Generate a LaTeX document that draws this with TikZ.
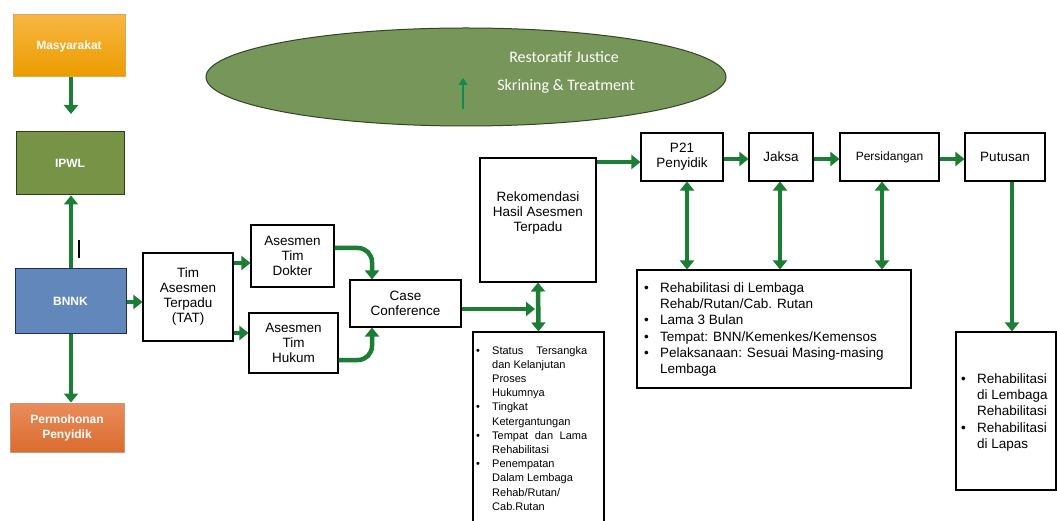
\documentclass[tikz,border=0pt]{standalone}
\usepackage{fontspec}
\setmainfont{Liberation Sans}
\newfontfamily\carl{Carlito}
\usetikzlibrary{arrows.meta,shapes.geometric}
\definecolor{arrgreen}{RGB}{28,125,52}
\definecolor{ellfill}{RGB}{119,150,89}
\definecolor{ellline}{RGB}{50,70,35}
\definecolor{ipwl}{RGB}{119,147,70}
\definecolor{ipwlline}{RGB}{45,60,25}
\definecolor{bnnk}{RGB}{98,135,186}
\definecolor{bnnkline}{RGB}{30,45,90}
\definecolor{mastop}{RGB}{248,182,64}
\definecolor{masbot}{RGB}{236,156,0}
\definecolor{masline}{RGB}{215,170,90}
\definecolor{pertop}{RGB}{234,140,90}
\definecolor{perbot}{RGB}{218,108,48}
\definecolor{perline}{RGB}{200,150,120}
\definecolor{upgreen}{RGB}{15,140,80}
\begin{document}
\begin{tikzpicture}[x=1pt,y=-1pt,
  box/.style={draw=black,line width=1.1pt,fill=white,align=center,inner sep=0pt,font=\fontsize{13.5}{15}\selectfont},
  lbox/.style={line width=1pt,align=center,inner sep=0pt,text=white,font=\bfseries\fontsize{12}{15}\selectfont},
  arr/.style={draw=arrgreen,line width=4.5pt,-{Triangle[width=14pt,length=9pt]}},
  darr/.style={draw=arrgreen,line width=4.5pt,{Triangle[width=14pt,length=9pt]}-{Triangle[width=14pt,length=9pt]}},
  listtext/.style={anchor=north west,inner sep=0pt,align=left}]
\useasboundingbox (0,0) rectangle (1057,521);
\fill[white] (0,0) rectangle (1057,521);

% ellipse
\node[ellipse,draw=ellline,line width=1pt,fill=ellfill,minimum width=520,minimum height=98,inner sep=0pt] (ell) at (466,77) {};
\node[text=white,font=\carl\fontsize{16}{18}\selectfont] (rj) at (564,57) {Restoratif Justice};
\node[text=white,font=\carl\fontsize{16}{18}\selectfont] (st) at (566,86) {Skrining \& Treatment};
\coordinate (ua) at (463,109);
\coordinate (ub) at (463,78);
\draw[draw=upgreen,line width=2.5pt,-{Triangle[width=9pt,length=7pt]}] (ua) -- (ub);

% left column
\node[lbox,draw=masline,top color=mastop,bottom color=masbot,minimum width=112,minimum height=62] (mas) at (69,46) {Masyarakat};
\node[lbox,draw=ipwlline,fill=ipwl,minimum width=108,minimum height=63] (ipwl) at (70,163.5) {IPWL};
\node[lbox,draw=bnnkline,fill=bnnk,minimum width=111,minimum height=64] (bnnk) at (70.5,301) {BNNK};
\node[lbox,draw=perline,top color=pertop,bottom color=perbot,minimum width=114,minimum height=49] (perm) at (67,427.5) {Permohonan\\Penyidik};

\coordinate (a1) at (71,114);
\draw[arr] (mas.south -| a1) -- (a1);
\draw[arr] (bnnk.north -| a1) -- (ipwl.south -| a1);
\draw[arr] (bnnk.south -| a1) -- (perm.north -| a1);
\coordinate (bar1) at (79,240);
\coordinate (bar2) at (79,258);
\draw[line width=1.2pt] (bar1) -- (bar2);

% middle
\node[box,minimum width=90,minimum height=88] (tat) at (188,297) {Tim\\Asesmen\\Terpadu\\(TAT)};
\node[box,minimum width=83,minimum height=62] (dok) at (292.5,256) {Asesmen\\Tim\\Dokter};
\node[box,minimum width=89,minimum height=60] (huk) at (293.5,343) {Asesmen\\Tim\\Hukum};
\node[box,minimum width=111,minimum height=47] (cc) at (405.5,303.5) {Case\\Conference};
\draw[arr] (bnnk.east |- 0,302) -- (tat.west |- 0,302);
\draw[arr] (tat.east |- 0,263) -- (dok.west |- 0,263);
\draw[arr] (tat.east |- 0,333) -- (huk.west |- 0,333);
\draw[arr,rounded corners=14pt] (dok.east |- 0,248) -| (cc.north -| 372,0);
\draw[arr,rounded corners=14pt] (huk.east |- 0,360) -| (cc.south -| 372,0);

\node[box,minimum width=116,minimum height=124] (rek) at (538,220) {};
\node[font=\fontsize{13.5}{15}\selectfont,align=center] (rektext) at (538,213) {Rekomendasi\\Hasil Asesmen\\Terpadu};
\node[box,minimum width=131,minimum height=190] (bul) at (538.5,427) {};
\node[listtext,font=\fontsize{11}{14.2}\selectfont] (bultext) at (476,344) {%
\begin{tabular}{@{}l@{}}
\makebox[16pt][l]{\textbullet}\makebox[95pt][s]{Status Tersangka}\\
\hspace*{16pt}dan Kelanjutan\\
\hspace*{16pt}Proses\\
\hspace*{16pt}Hukumnya\\
\makebox[16pt][l]{\textbullet}Tingkat\\
\hspace*{16pt}Ketergantungan\\
\makebox[16pt][l]{\textbullet}\makebox[95pt][s]{Tempat dan Lama}\\
\hspace*{16pt}Rehabilitasi\\
\makebox[16pt][l]{\textbullet}Penempatan\\
\hspace*{16pt}Dalam Lembaga\\
\hspace*{16pt}Rehab/Rutan/\\
\hspace*{16pt}Cab.Rutan
\end{tabular}};
\coordinate (c2) at (535,309);
\draw[arr] (cc.east |- c2) -- (c2);
\draw[darr] (rek.south) -- (bul.north);

% right
\node[box,minimum width=82,minimum height=48] (p21) at (682,157) {P21\\Penyidik};
\node[box,minimum width=64,minimum height=48] (jak) at (781,157) {Jaksa};
\node[box,minimum width=99,minimum height=48,font=\fontsize{12}{14}\selectfont] (per) at (889.5,157) {Persidangan};
\node[box,minimum width=80,minimum height=48] (put) at (1005,157) {Putusan};
\draw[arr] (rek.east |- 0,162) -- (p21.west |- 0,162);
\draw[arr] (p21.east |- 0,159) -- (jak.west |- 0,159);
\draw[arr] (jak.east |- 0,159) -- (per.west |- 0,159);
\draw[arr] (per.east |- 0,159) -- (put.west |- 0,159);

\node[box,minimum width=274,minimum height=118] (lst) at (774,329) {};
\node[listtext,font=\fontsize{13.5}{16.3}\selectfont] (lsttext) at (644,280.6) {%
\begin{tabular}{@{}l@{}}
\makebox[16pt][l]{\textbullet}Rehabilitasi di Lembaga\\
\hspace*{16pt}Rehab/Rutan/Cab. Rutan\\
\makebox[16pt][l]{\textbullet}Lama 3 Bulan\\
\makebox[16pt][l]{\textbullet}Tempat: BNN/Kemenkes/Kemensos\\
\makebox[16pt][l]{\textbullet}Pelaksanaan: Sesuai Masing-masing\\
\hspace*{16pt}Lembaga
\end{tabular}};
\draw[darr] (p21.south -| 687,0) -- (lst.north -| 687,0);
\draw[darr] (jak.south -| 780,0) -- (lst.north -| 780,0);
\draw[darr] (per.south -| 882,0) -- (lst.north -| 882,0);

\node[box,minimum width=100,minimum height=158] (fin) at (1006,411) {};
\node[listtext,font=\fontsize{13.5}{16.3}\selectfont] (fintext) at (961,371.6) {%
\begin{tabular}{@{}l@{}}
\makebox[16pt][l]{\textbullet}Rehabilitasi\\
\hspace*{16pt}di Lembaga\\
\hspace*{16pt}Rehabilitasi\\
\makebox[16pt][l]{\textbullet}Rehabilitasi\\
\hspace*{16pt}di Lapas
\end{tabular}};
\draw[arr] (put.south -| 1012,0) -- (fin.north -| 1012,0);
\end{tikzpicture}
\end{document}
